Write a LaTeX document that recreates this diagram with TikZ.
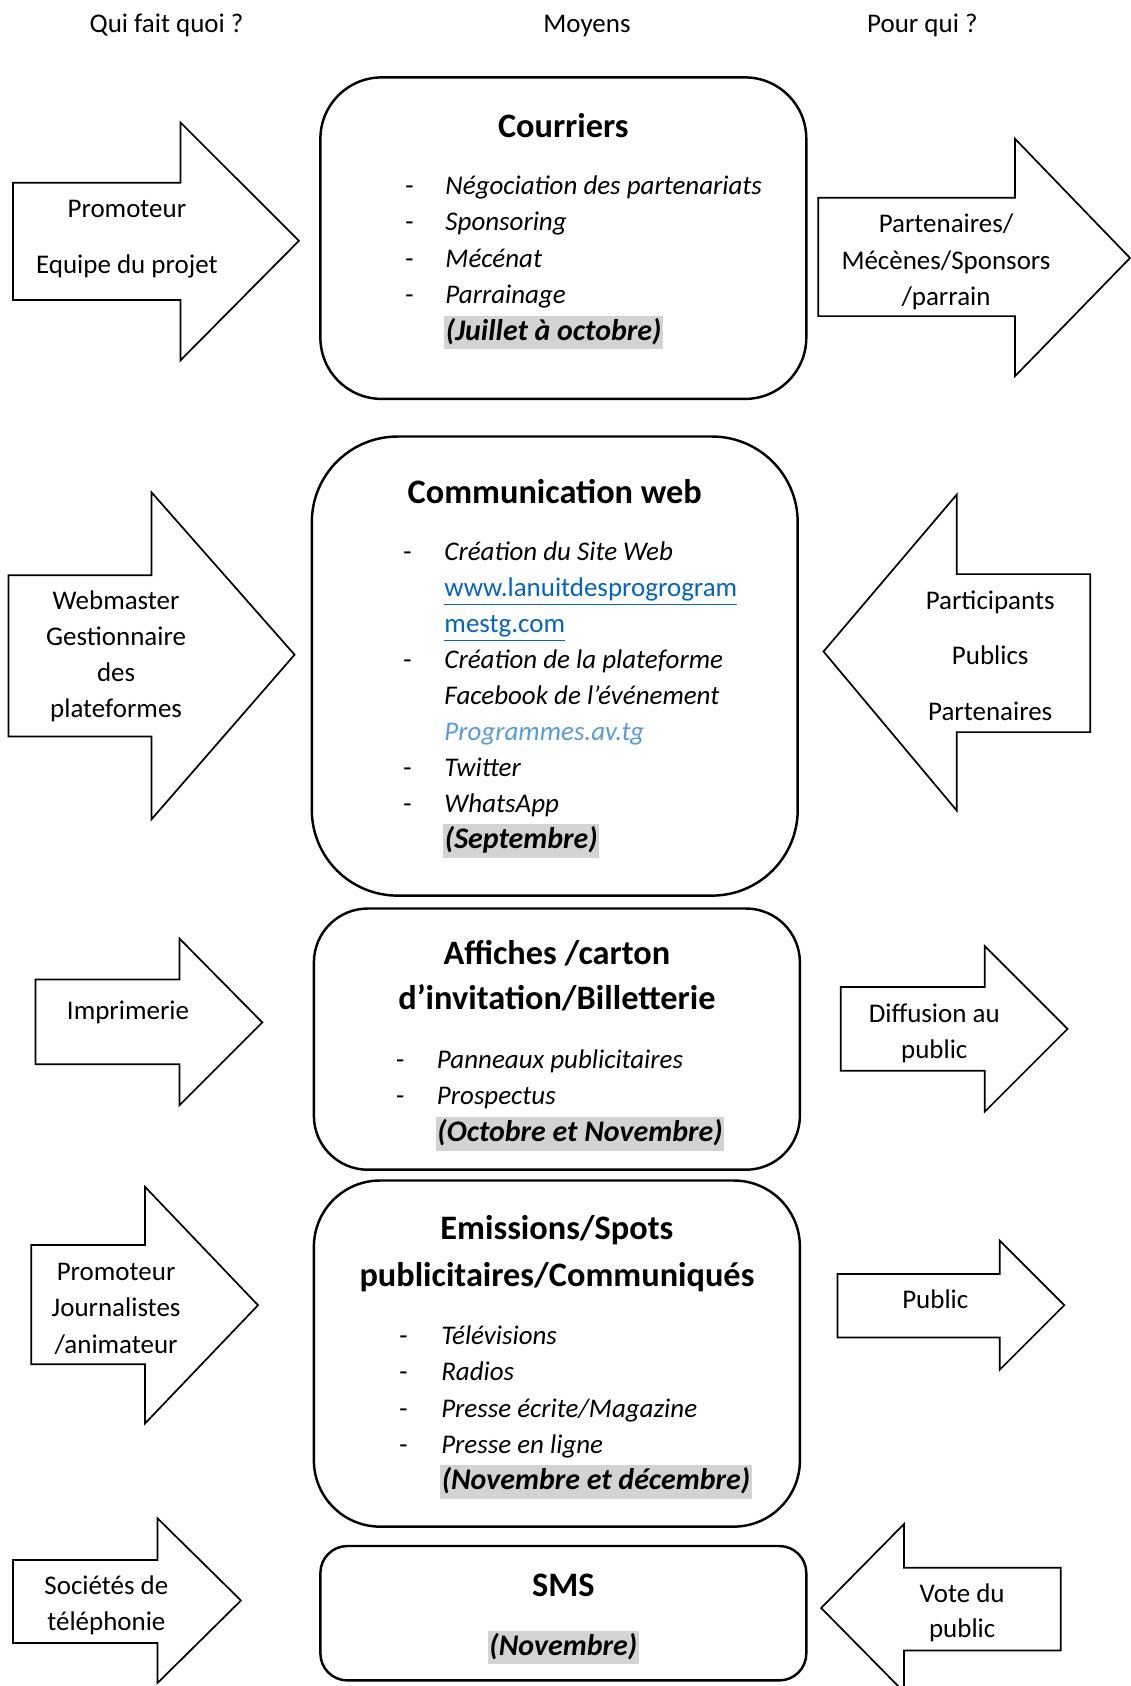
\documentclass[tikz,border=0pt]{standalone}
\usepackage{fontspec}
\setmainfont{Carlito}
\definecolor{hl}{HTML}{D3D3D3}
\definecolor{linkblue}{HTML}{0563C1}
\definecolor{lightblue}{HTML}{5B9BD5}
% far end x, head base x, body top, body bottom, head top, head bottom, tip x, tip y
\newcommand\myArrow[8]{%
  \draw[arr] (#1,#3) -- (#2,#3) -- (#2,#5) -- (#7,#8) -- (#2,#6) -- (#2,#4) -- (#1,#4) -- cycle;}
\begin{document}
\begin{tikzpicture}[x=0.408pt,y=-0.408pt,
  arr/.style={draw=black,line width=0.7pt,line join=miter,fill=white},
  boxr/.style={draw=black,line width=1pt},
  txt/.style={anchor=base,inner sep=0pt,font=\fontsize{11}{13}\selectfont},
  ttl/.style={anchor=base,inner sep=0pt,font=\fontsize{14}{17}\selectfont\bfseries},
  dsh/.style={anchor=base west,inner sep=0pt,font=\fontsize{11}{13}\selectfont},
  itm/.style={anchor=base west,inner sep=0pt,font=\fontsize{11}{13}\selectfont\itshape},
  hlb/.style={anchor=base west,inner xsep=0.6pt,inner ysep=0pt,fill=hl,text height=10pt,text depth=3.8pt,
     font=\fontsize{12.2}{14}\selectfont\bfseries\itshape}]
\useasboundingbox (0,0) rectangle (1131,1686);
\fill[white] (0,0) rectangle (1131,1686);

% headers
\node[txt] (h1) at (166.6,32) {Qui fait quoi ?};
\node[txt] (h2) at (587,32) {Moyens};
\node[txt] (h3) at (922.4,32) {Pour qui ?};

% ===== Row 1 : Courriers
\draw[boxr,rounded corners=25pt] (320.4,77.4) rectangle (806.3,398.9);
\node[ttl] (t1) at (563.3,137) {Courriers};
\node[dsh] (d11) at (405,194) {-};
\node[itm] (i11) at (445,194) {Négociation des partenariats};
\node[dsh] (d12) at (405,230.5) {-};
\node[itm] (i12) at (445,230.5) {Sponsoring};
\node[dsh] (d13) at (405,267) {-};
\node[itm] (i13) at (445,267) {Mécénat};
\node[dsh] (d14) at (405,303.5) {-};
\node[itm] (i14) at (445,303.5) {Parrainage};
\node[hlb] (p1) at (444,340) {(Juillet à octobre)};

\myArrow{12.9}{180.6}{182.8}{300}{122.6}{360.2}{298.9}{240.8}
\node[txt] (a1a) at (126.9,217.6) {Promoteur};
\node[txt] (a1b) at (126.9,273.6) {Equipe du projet};

\myArrow{818.2}{1014.9}{197.8}{316.1}{138.7}{376.3}{1130}{258}
\begin{scope}
\clip (818.2,197.8) rectangle (1131,315);
\node[txt] (r1a) at (946,232.7) {Partenaires/};
\node[txt] (r1b) at (946,269.3) {Mécènes/Sponsors};
\node[txt] (r1c) at (946,305.8) {/parrain};
\end{scope}

% ===== Row 2 : Communication web
\draw[boxr,rounded corners=35pt] (311.8,436.5) rectangle (797.7,895.6);
\node[ttl] (t2) at (554.8,503.4) {Communication web};
\node[dsh] (d21) at (403,560.5) {-};
\node[itm] (i21) at (444,560.5) {Création du Site Web};
\node[dsh,text=linkblue] (i22) at (444,596.5) {\underline{www.lanuitdesprogrogram}};
\node[dsh,text=linkblue] (i23) at (444,632.5) {\underline{mestg.com}};
\node[dsh] (d24) at (403,668.5) {-};
\node[itm] (i24) at (444,668.5) {Création de la plateforme};
\node[itm] (i25) at (444,704.5) {Facebook de l’événement};
\node[itm,text=lightblue] (i26) at (444,740.5) {Programmes.av.tg};
\node[dsh] (d27) at (403,776.5) {-};
\node[itm] (i27) at (444,776.5) {Twitter};
\node[dsh] (d28) at (403,812.5) {-};
\node[itm] (i28) at (444,812.5) {WhatsApp};
\node[hlb] (p2) at (443,848.5) {(Septembre)};

\myArrow{8.6}{151.6}{575.2}{736.4}{492.4}{819.2}{294.6}{654.7}
\node[txt] (a2a) at (116.1,609) {Webmaster};
\node[txt] (a2b) at (116.1,645.5) {Gestionnaire};
\node[txt] (a2c) at (116.1,681) {des};
\node[txt] (a2d) at (116.1,717.6) {plateformes};

\myArrow{1090.2}{956.8}{574.1}{732.1}{494.5}{810.6}{823.5}{651.5}
\node[txt] (r2a) at (990.2,609) {Participants};
\node[txt] (r2b) at (990.2,664.9) {Publics};
\node[txt] (r2c) at (990.2,720.8) {Partenaires};

% ===== Row 3 : Affiches
\draw[boxr,rounded corners=22pt] (313.9,908.5) rectangle (799.9,1169.7);
\node[ttl] (t3a) at (556.9,964.6) {Affiches /carton};
\node[ttl] (t3b) at (556.9,1009.8) {d’invitation/Billetterie};
\node[dsh] (d31) at (395.6,1068) {-};
\node[itm] (i31) at (436.5,1068) {Panneaux publicitaires};
\node[dsh] (d32) at (395.6,1104.6) {-};
\node[itm] (i32) at (436.5,1104.6) {Prospectus};
\node[hlb] (p3) at (435.5,1141.2) {(Octobre et Novembre)};

\myArrow{35.5}{179.5}{979.4}{1064.3}{938.6}{1105.2}{262.3}{1022.4}
\node[txt] (a3a) at (128,1019.7) {Imprimerie};

\myArrow{840.7}{984.8}{987}{1070.8}{946.1}{1111.7}{1067.6}{1028.9}
\begin{scope}
\clip (840.7,987) rectangle (1131,1070);
\node[txt] (r3a) at (934.3,1022.9) {Diffusion au};
\node[txt] (r3b) at (934.3,1058.4) {public};
\end{scope}

% ===== Row 4 : Emissions
\draw[boxr,rounded corners=27pt] (313.9,1180.5) rectangle (799.9,1526.6);
\node[ttl] (t4a) at (556.9,1239.8) {Emissions/Spots};
\node[ttl] (t4b) at (556.9,1286) {publicitaires/Communiqués};
\node[dsh] (d41) at (398.9,1344.4) {-};
\node[itm] (i41) at (440.8,1344.4) {Télévisions};
\node[dsh] (d42) at (398.9,1380.7) {-};
\node[itm] (i42) at (440.8,1380.7) {Radios};
\node[dsh] (d43) at (398.9,1417) {-};
\node[itm] (i43) at (440.8,1417) {Presse écrite/Magazine};
\node[dsh] (d44) at (398.9,1453.3) {-};
\node[itm] (i44) at (440.8,1453.3) {Presse en ligne};
\node[hlb] (p4) at (439.8,1489.5) {(Novembre et décembre)};

\myArrow{31.2}{145.1}{1245}{1364.3}{1186.9}{1423.4}{258}{1305.2}
\node[txt] (a4a) at (116.1,1280.9) {Promoteur};
\node[txt] (a4b) at (116.1,1316.4) {Journalistes};
\node[txt] (a4c) at (116.1,1353) {/animateur};

\myArrow{837.5}{999.8}{1274}{1337.4}{1240.7}{1369.7}{1064.3}{1305.2}
\node[txt] (r4a) at (935.3,1308.9) {Public};

% ===== Row 5 : SMS
\draw[boxr,rounded corners=11pt] (320.4,1546) rectangle (806.3,1680.4);
\node[ttl] (t5) at (563.3,1596.8) {SMS};
\node[hlb,anchor=base] (p5) at (563.3,1655) {(Novembre)};

\myArrow{13}{157.5}{1560}{1643}{1518.3}{1683}{241}{1600.5}
\begin{scope}
\clip (13,1560) rectangle (241,1642);
\node[txt] (a5a) at (106.4,1594.9) {Sociétés de};
\node[txt] (a5b) at (106.4,1630.3) {téléphonie};
\end{scope}

\myArrow{1060.8}{904}{1567.8}{1650.5}{1524}{1692}{821.2}{1608}
\begin{scope}
\clip (1060.8,1567.8) rectangle (821.2,1649.5);
\node[txt] (r5a) at (962.2,1602.4) {Vote du};
\node[txt] (r5b) at (962.2,1637.9) {public};
\end{scope}
\end{tikzpicture}
\end{document}
